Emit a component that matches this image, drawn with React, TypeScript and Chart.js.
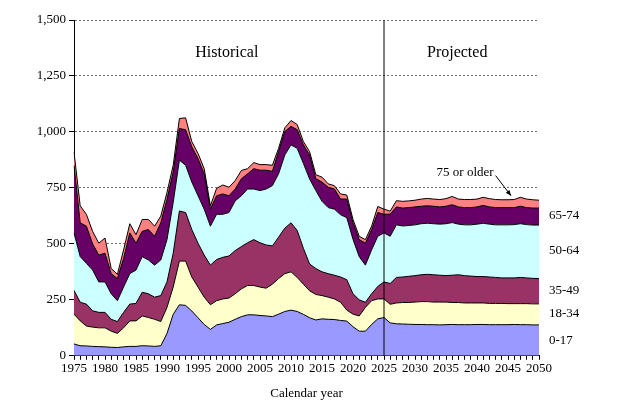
import React, { useEffect, useRef } from "react";
import { Chart, registerables } from "chart.js";
Chart.register(...registerables);

const years: number[] = [];
for (let y = 1975; y <= 2050; y++) years.push(y);

// cumulative tops of each stacked band (thousands)
const top0_17 = [53,45,44,42,41,40,38,37,40,42, 42,45,44,42,45,100,185,228,225,200, 170,140,118,138,144,150,163,175,183,183, 180,178,175,186,198,204,198,185,170,160, 165,163,162,158,155,130,110,110,140,165, 171,
  147,143,142,141,140,140,139,139,138,139,140,139,139,139,140,140,139,139,139,139,140,139,139,138,138];
const top18_34 = [186,156,133,128,125,125,110,100,125,156, 156,178,171,163,153,216,307,423,423,352, 307,262,228,246,254,258,277,299,314,314, 307,302,320,345,367,375,350,320,290,274, 269,262,254,239,204,186,178,216,246,254, 254,
  230,236,238,238,240,242,242,240,240,240,238,238,236,236,236,236,234,234,234,233,233,233,233,232,232];
const top35_49 = [292,239,231,201,194,194,163,153,194,231, 234,284,277,262,269,330,458,647,640,564, 503,450,405,430,440,446,470,488,505,519, 505,495,491,530,570,594,560,480,410,390, 375,367,360,352,340,277,250,239,277,310, 330,
  323,350,352,355,358,362,364,362,360,358,360,362,358,356,354,354,352,350,348,348,348,350,348,346,345];
const top50_64 = [549,443,413,383,330,330,277,246,307,367, 383,443,428,405,428,519,685,874,851,776, 715,655,579,632,632,640,692,715,745,745, 738,745,760,813,897,942,927,859,790,738, 690,662,655,630,617,520,443,405,473,534, 549,
  534,585,580,582,585,590,592,590,588,590,595,588,585,585,588,592,588,585,585,585,586,590,586,584,584];
const top65_74 = [851,594,579,500,450,458,367,345,435,549, 503,556,564,534,594,700,821,1015,1010,934, 881,813,655,715,723,715,745,791,813,836, 829,829,824,912,1002,1025,1010,942,897,791, 776,753,745,700,700,594,519,503,564,640, 632,
  633,665,660,662,665,668,670,668,665,668,675,665,662,662,665,672,665,662,662,662,662,668,662,660,660];
const topAll = [910,670,632,556,503,526,390,364,473,590, 541,609,609,579,624,730,851,1060,1063,957, 904,836,670,748,763,753,783,828,836,863, 854,854,851,927,1018,1051,1033,957,912,809, 798,768,760,723,718,609,534,519,579,667, 655,
  646,693,690,692,695,700,703,700,698,702,712,700,698,698,700,708,702,698,697,697,698,708,700,697,695];

const bandNames = ["0-17", "18-34", "35-49", "50-64", "65-74", "75 or older"];
const bandColors = ["#9999FF", "#FFFFCC", "#993366", "#CCFFFF", "#660066", "#FF8080"];
const bandLabelValues = [70, 190, 290, 470, 625];
const yTicks = [0, 250, 500, 750, 1000, 1250, 1500];

const FONT = "'Liberation Serif', 'Times New Roman', serif";

const overlay = {
  id: "overlay",
  afterDatasetsDraw(chart: any) {
    const { ctx, chartArea, scales } = chart;
    const x = scales.x, y = scales.y;
    ctx.save();
    const xd = x.getPixelForValue(years.indexOf(2025));
    ctx.strokeStyle = "#000";
    ctx.lineWidth = 1;
    ctx.beginPath();
    ctx.moveTo(xd, chartArea.top);
    ctx.lineTo(xd, chartArea.bottom);
    ctx.stroke();
    ctx.fillStyle = "#000";
    ctx.font = `16px ${FONT}`;
    ctx.textAlign = "center";
    ctx.textBaseline = "middle";
    ctx.fillText("Historical", x.getPixelForValue(years.indexOf(1999)) + 4, y.getPixelForValue(1355));
    ctx.fillText("Projected", x.getPixelForValue(years.indexOf(2036)) + 5, y.getPixelForValue(1355));
    ctx.font = `13px ${FONT}`;
    ctx.textAlign = "left";
    bandLabelValues.forEach((v, i) => {
      ctx.fillText(bandNames[i], chartArea.right + 10, y.getPixelForValue(v));
    });
    ctx.fillText(bandNames[5], x.getPixelForValue(years.indexOf(2033)) + 3, y.getPixelForValue(820));
    const ax0 = x.getPixelForValue(years.indexOf(2043)), ay0 = y.getPixelForValue(805);
    const ax1 = x.getPixelForValue(years.indexOf(2045)) + 3, ay1 = y.getPixelForValue(715);
    ctx.beginPath();
    ctx.moveTo(ax0, ay0);
    ctx.lineTo(ax1, ay1);
    ctx.stroke();
    const ang = Math.atan2(ay1 - ay0, ax1 - ax0);
    ctx.beginPath();
    ctx.moveTo(ax1, ay1);
    ctx.lineTo(ax1 - 6 * Math.cos(ang - 0.4), ay1 - 6 * Math.sin(ang - 0.4));
    ctx.lineTo(ax1 - 6 * Math.cos(ang + 0.4), ay1 - 6 * Math.sin(ang + 0.4));
    ctx.closePath();
    ctx.fill();
    ctx.restore();
  },
};

export default function App() {
  const ref = useRef<HTMLCanvasElement>(null);
  useEffect(() => {
    const tops = [top0_17, top18_34, top35_49, top50_64, top65_74, topAll];
    const chart = new Chart(ref.current!, {
      type: "line",
      data: {
        labels: years.map(String),
        datasets: tops.map((d, i) => ({
          label: bandNames[i],
          data: d,
          fill: i === 0 ? "origin" : "-1",
          backgroundColor: bandColors[i],
          borderColor: "#000",
          borderWidth: 1,
          pointRadius: 0,
          tension: 0,
        })),
      },
      options: {
        animation: false,
        responsive: false,
        maintainAspectRatio: false,
        layout: { padding: { top: 20, right: 85, left: 4, bottom: 8 } },
        plugins: { legend: { display: false }, tooltip: { enabled: false } },
        scales: {
          x: {
            type: "category",
            offset: false,
            border: { color: "#000" },
            grid: { display: true, drawOnChartArea: false, color: "#000", tickLength: 4 },
            ticks: {
              autoSkip: false,
              maxRotation: 0,
              color: "#000",
              font: { family: FONT, size: 13 },
              padding: 1,
              callback: (_v: any, i: number) => (years[i] % 5 === 0 ? String(years[i]) : ""),
            },
            title: { display: true, text: "Calendar year", color: "#000", font: { family: FONT, size: 13 }, padding: { top: 8 } },
          },
          y: {
            min: 0,
            max: 1500,
            afterFit: (s: any) => { s.width = 70; },
            afterBuildTicks: (s: any) => { s.ticks = yTicks.map((v) => ({ value: v })); },
            border: { color: "#000", dash: [2, 2] },
            grid: { color: "#777", lineWidth: 1, tickLength: 5, tickColor: "#000" } as any,
            ticks: {
              color: "#000",
              font: { family: FONT, size: 13 },
              callback: (v: any) => Number(v).toLocaleString("en-US"),
            },
          },
        },
      },
      plugins: [overlay],
    });
    return () => chart.destroy();
  }, []);
  return (
    <div style={{ position: "absolute", left: 0, top: 0, width: 624, height: 413, background: "#fff" }}>
      <canvas ref={ref} width={624} height={413} />
    </div>
  );
}
